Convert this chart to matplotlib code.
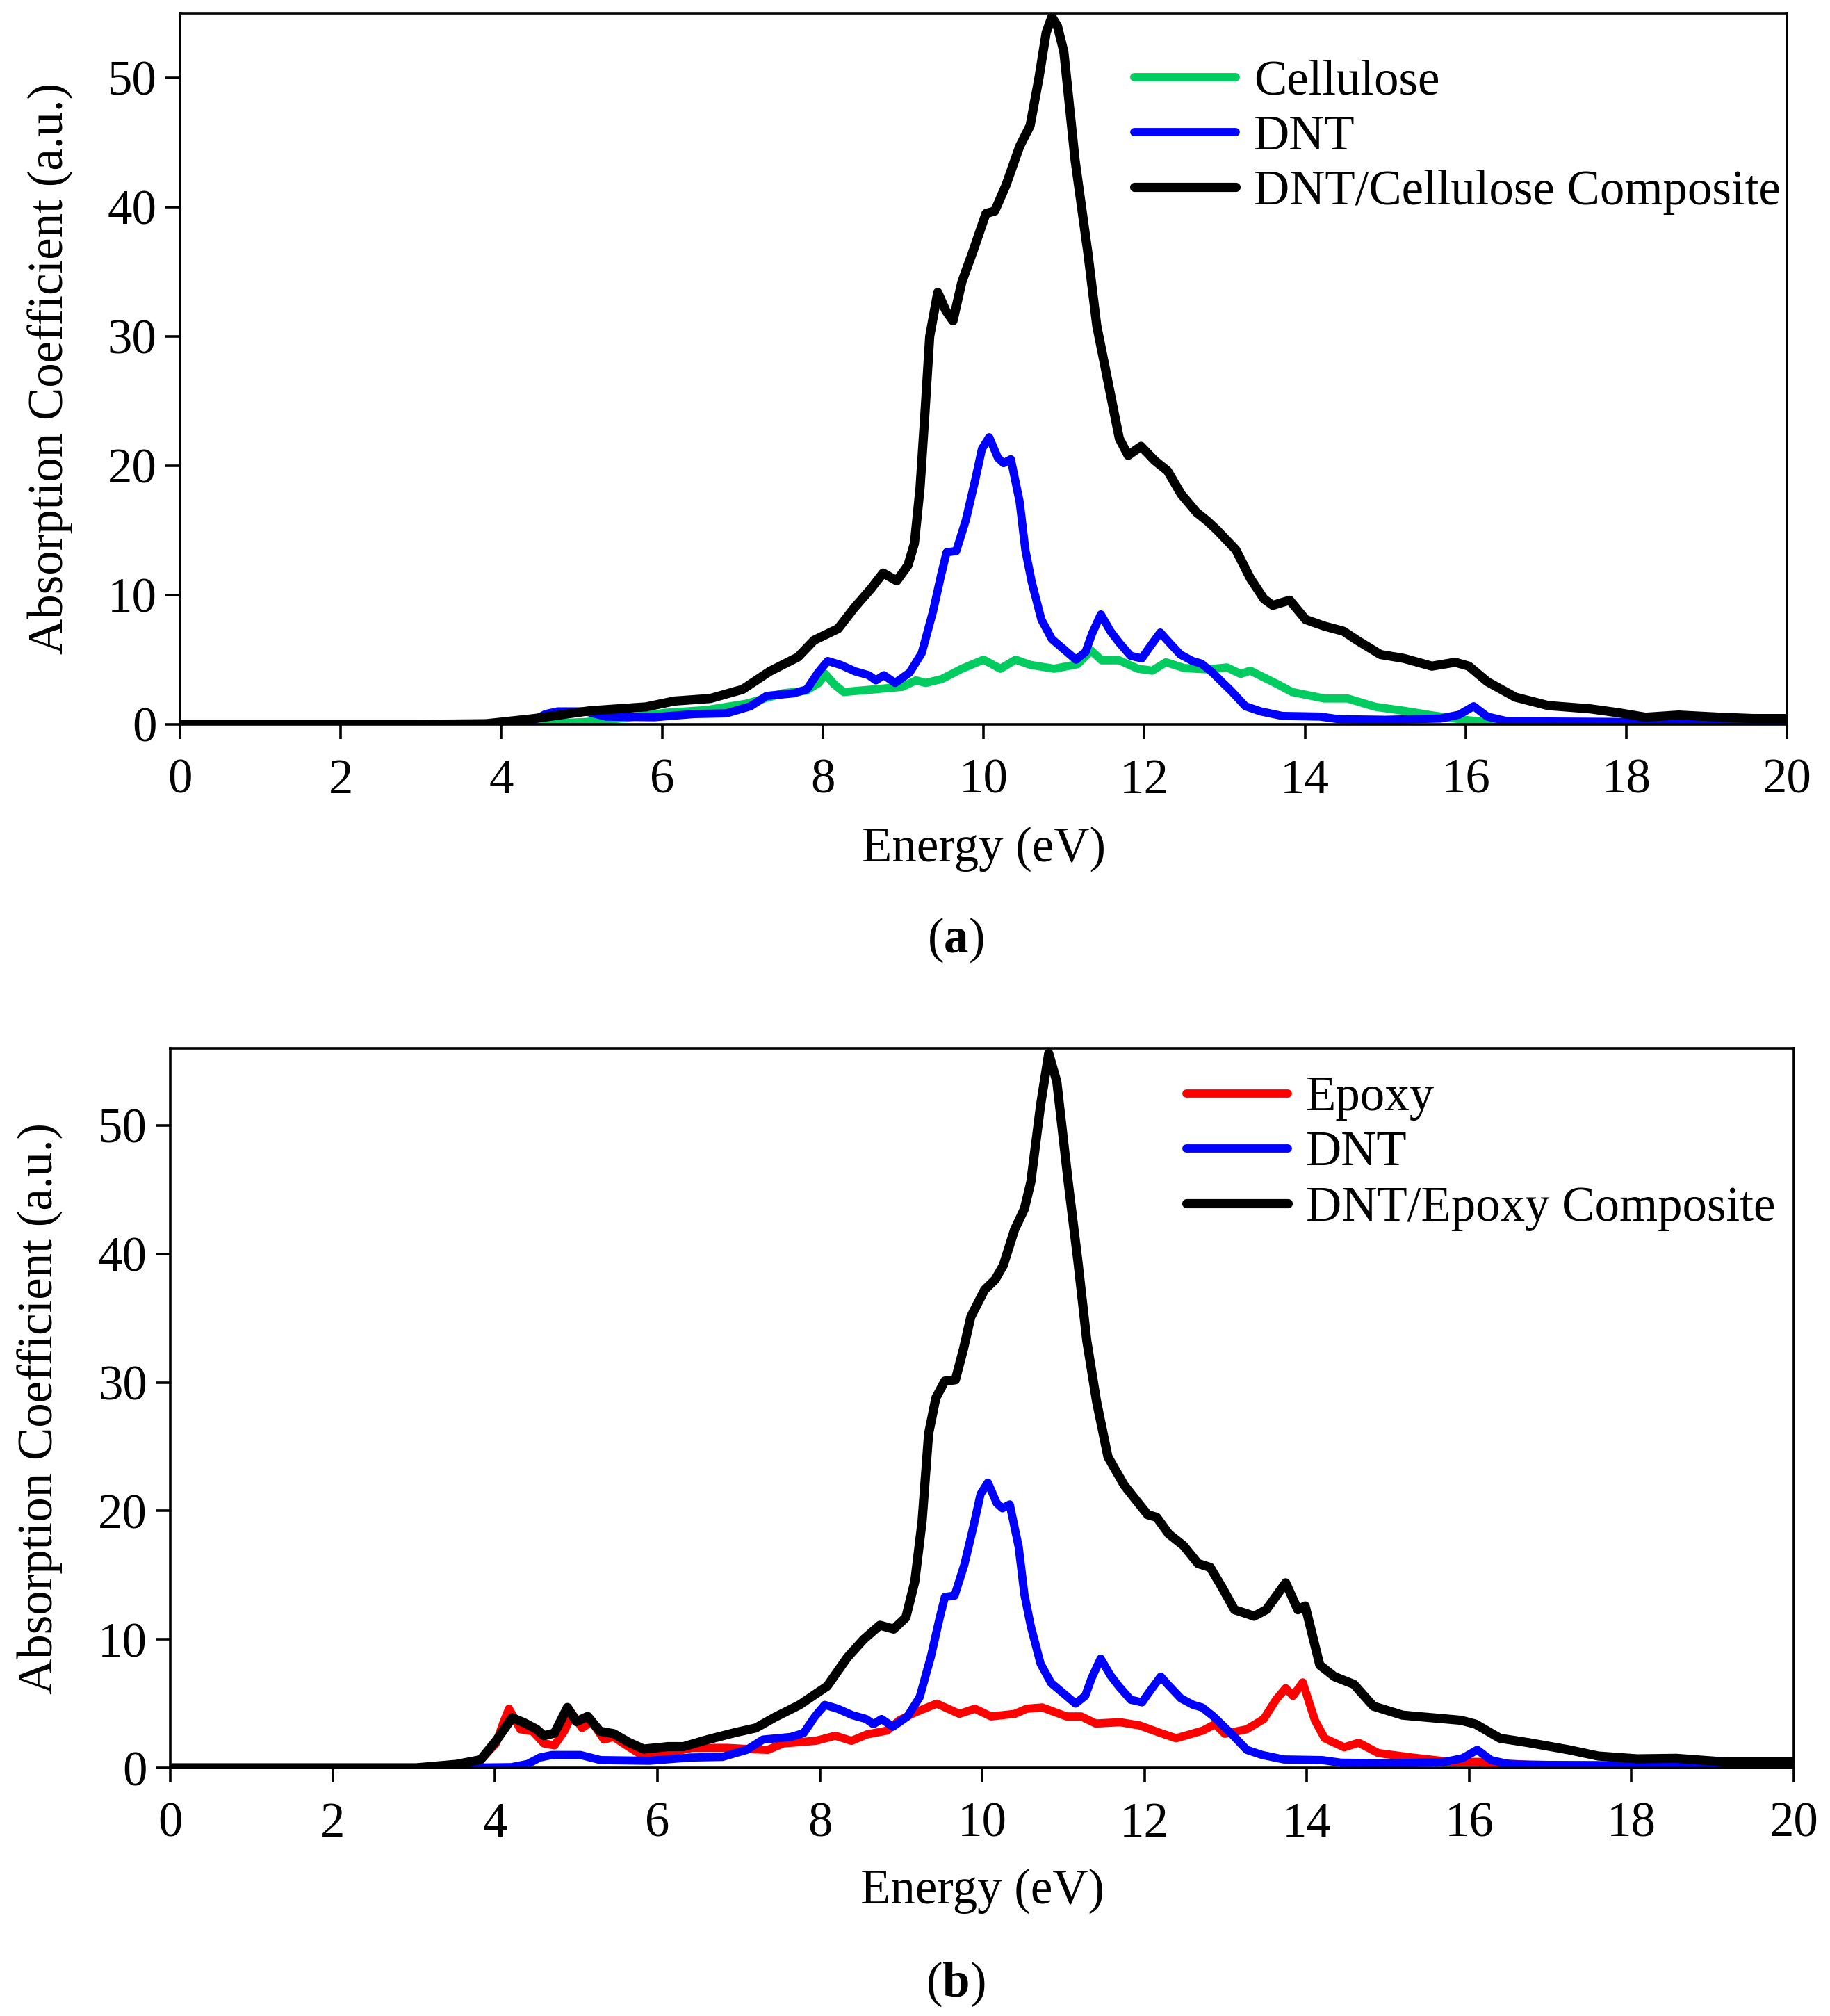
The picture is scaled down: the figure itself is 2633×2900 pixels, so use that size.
import matplotlib
matplotlib.use('Agg')
import matplotlib.pyplot as plt

plt.rcParams['font.family'] = ['Liberation Serif', 'DejaVu Serif']
plt.rcParams['mathtext.fontset'] = 'custom'
plt.rcParams['mathtext.rm'] = 'Liberation Serif'
plt.rcParams['mathtext.bf'] = 'Liberation Serif:bold'

# DNT (same spectrum in both panels)
dnt_e = [0.0, 3.5, 4.2, 4.4, 4.55, 4.7, 5.05, 5.3, 5.9, 6.4, 6.8, 7.1, 7.3, 7.64, 7.8, 7.94,
         8.06, 8.22, 8.4, 8.57, 8.66, 8.76, 8.9, 9.08, 9.23, 9.37, 9.47, 9.54, 9.66, 9.78,
         9.9, 9.98, 10.07, 10.18, 10.25, 10.34, 10.45, 10.52, 10.6, 10.72, 10.85, 11.0,
         11.15, 11.27, 11.35, 11.46, 11.58, 11.69, 11.83, 11.97, 12.07, 12.2, 12.3, 12.45,
         12.6, 12.71, 12.85, 12.98, 13.08, 13.26, 13.45, 13.72, 14.19, 14.42, 15.0, 15.69,
         15.92, 16.1, 16.27, 16.5, 17.0, 18.13, 20.0]
dnt_a = [0.0, 0.0, 0.05, 0.3, 0.8, 1.0, 1.0, 0.6, 0.55, 0.8, 0.85, 1.4, 2.2, 2.4, 2.7, 4.0,
         4.9, 4.6, 4.1, 3.8, 3.4, 3.8, 3.2, 4.0, 5.5, 8.7, 11.5, 13.3, 13.4, 15.8,
         19.0, 21.3, 22.2, 20.6, 20.2, 20.5, 17.2, 13.5, 11.0, 8.1, 6.6, 5.8,
         5.0, 5.6, 7.0, 8.5, 7.2, 6.3, 5.3, 5.1, 6.0, 7.1, 6.4, 5.4,
         4.9, 4.7, 4.0, 3.2, 2.6, 1.4, 1.0, 0.65, 0.6, 0.4, 0.35, 0.45,
         0.75, 1.4, 0.6, 0.27, 0.22, 0.18, 0.12]

# (a) Cellulose
cel_e = [0.0, 4.0, 4.56, 5.05, 5.55, 6.05, 6.55, 7.05, 7.5, 7.79, 7.95, 8.03, 8.14, 8.26,
         8.54, 8.99, 9.16, 9.28, 9.48, 9.73, 10.0, 10.21, 10.4, 10.58, 10.88, 11.17, 11.34,
         11.47, 11.69, 11.92, 12.1, 12.27, 12.5, 12.79, 13.03, 13.2, 13.32, 13.66, 13.84,
         14.24, 14.53, 14.88, 15.23, 15.58, 15.98, 16.4, 17.0, 20.0]
cel_a = [0.0, 0.0, 0.05, 0.18, 0.5, 0.9, 1.1, 1.6, 2.4, 2.6, 3.2, 3.9, 3.1, 2.5,
         2.65, 2.9, 3.4, 3.2, 3.5, 4.3, 5.0, 4.3, 5.0, 4.6, 4.3, 4.65, 5.7,
         4.95, 4.95, 4.3, 4.15, 4.8, 4.35, 4.25, 4.4, 3.9, 4.15, 3.1, 2.5,
         2.0, 2.0, 1.35, 1.05, 0.7, 0.35, 0.08, 0.02, 0.0]

# (a) DNT/Cellulose composite
dcel_e = [0.0, 3.0, 3.81, 4.41, 5.1, 5.8, 6.15, 6.6, 7.0, 7.34, 7.69, 7.89, 8.19, 8.39,
          8.6, 8.75, 8.92, 9.06, 9.14, 9.21, 9.27, 9.33, 9.43, 9.53, 9.62, 9.73, 9.87,
          10.03, 10.14, 10.28, 10.45, 10.58, 10.69, 10.78, 10.85, 10.92, 11.0, 11.14,
          11.3, 11.41, 11.52, 11.69, 11.8, 11.96, 12.13, 12.29, 12.46, 12.65, 12.79,
          12.91, 13.14, 13.32, 13.49, 13.6, 13.81, 14.01, 14.24, 14.48, 14.65, 14.94,
          15.23, 15.58, 15.87, 16.04, 16.27, 16.62, 17.03, 17.55, 17.9, 18.24, 18.65,
          19.17, 19.58, 20.0]
dcel_a = [0.0, 0.0, 0.05, 0.45, 1.05, 1.35, 1.8, 2.0, 2.7, 4.1, 5.2, 6.5, 7.4, 9.0,
          10.5, 11.7, 11.1, 12.3, 14.0, 18.3, 24.0, 30.0, 33.4, 32.0, 31.2, 34.2, 36.6,
          39.5, 39.7, 41.7, 44.7, 46.3, 50.0, 53.5, 54.7, 54.0, 52.0, 43.6,
          36.4, 30.8, 27.4, 22.1, 20.8, 21.5, 20.4, 19.6, 17.8, 16.4, 15.7,
          15.0, 13.5, 11.3, 9.7, 9.2, 9.6, 8.1, 7.6, 7.2, 6.5, 5.4,
          5.1, 4.5, 4.8, 4.5, 3.3, 2.1, 1.45, 1.2, 0.9, 0.55, 0.72,
          0.55, 0.45, 0.45]

# (b) Epoxy
epo_e = [0.0, 3.0, 3.77, 4.01, 4.1, 4.17, 4.31, 4.46, 4.6, 4.73, 4.85, 4.95, 5.07, 5.19,
         5.34, 5.46, 5.64, 5.78, 6.08, 6.42, 6.86, 7.11, 7.36, 7.55, 7.95, 8.19, 8.39,
         8.58, 8.83, 8.98, 9.17, 9.44, 9.72, 9.91, 10.11, 10.4, 10.55, 10.74, 11.04,
         11.22, 11.4, 11.7, 11.94, 12.18, 12.39, 12.72, 12.87, 12.99, 13.26, 13.47,
         13.62, 13.74, 13.83, 13.95, 14.1, 14.22, 14.46, 14.64, 14.88, 15.3, 15.78,
         16.14, 16.74, 20.0]
epo_a = [0.0, 0.0, 0.27, 1.9, 3.5, 4.6, 3.0, 2.85, 1.9, 1.75, 2.85, 4.2, 3.1, 3.6,
         2.2, 2.4, 1.65, 1.1, 1.1, 1.55, 1.55, 1.46, 1.4, 1.9, 2.1, 2.5, 2.1,
         2.6, 2.9, 3.7, 4.3, 5.0, 4.2, 4.6, 4.0, 4.2, 4.6, 4.7, 4.0,
         4.0, 3.45, 3.55, 3.3, 2.75, 2.3, 2.9, 3.4, 2.65, 3.0, 3.8,
         5.3, 6.2, 5.6, 6.65, 3.7, 2.3, 1.6, 1.95, 1.15, 0.8, 0.46,
         0.46, 0.23, 0.1]

# (b) DNT/Epoxy composite
depo_e = [0.0, 3.03, 3.52, 3.82, 4.01, 4.21, 4.36, 4.51, 4.6, 4.73, 4.89, 5.0, 5.14, 5.29,
          5.46, 5.64, 5.83, 6.13, 6.32, 6.62, 6.96, 7.21, 7.45, 7.75, 8.09, 8.34, 8.54,
          8.74, 8.91, 9.06, 9.17, 9.26, 9.34, 9.43, 9.54, 9.67, 9.77, 9.86, 10.03, 10.16,
          10.26, 10.4, 10.52, 10.6, 10.72, 10.82, 10.92, 11.06, 11.18, 11.29, 11.41,
          11.55, 11.75, 11.9, 12.04, 12.15, 12.3, 12.48, 12.66, 12.81, 12.96, 13.11,
          13.26, 13.35, 13.5, 13.74, 13.89, 13.98, 14.16, 14.34, 14.58, 14.82, 15.18,
          15.54, 15.9, 16.08, 16.38, 16.74, 17.23, 17.59, 18.07, 18.55, 19.15, 20.0]
depo_a = [0.0, 0.0, 0.27, 0.63, 2.1, 3.9, 3.5, 3.0, 2.5, 2.7, 4.7, 3.6, 4.0, 2.85,
          2.66, 2.0, 1.46, 1.65, 1.65, 2.2, 2.75, 3.1, 3.95, 4.9, 6.35, 8.6, 10.0,
          11.1, 10.8, 11.7, 14.5, 19.2, 26.0, 28.8, 30.1, 30.2, 32.6, 35.1, 37.2, 38.0,
          39.1, 41.9, 43.5, 45.6, 51.6, 55.6, 53.4, 45.6, 39.4, 33.2, 28.5,
          24.2, 22.0, 20.8, 19.7, 19.5, 18.2, 17.3, 15.9, 15.6, 14.0, 12.3,
          12.0, 11.8, 12.3, 14.4, 12.3, 12.6, 8.0, 7.1, 6.5, 4.8, 4.1,
          3.9, 3.7, 3.4, 2.3, 1.95, 1.4, 0.92, 0.7, 0.74, 0.46, 0.46]

x_ticks = list(range(0, 21, 2))
y_ticks = [0, 10, 20, 30, 40, 50]

FS = 51
LW_COL = 8.5
LW_BLACK = 9.5


def style_axis(ax, ymax, xlab_y):
    ax.set_xlim(0, 20)
    ax.set_ylim(0, ymax)
    ax.set_xticks(x_ticks)
    ax.set_yticks(y_ticks)
    ax.tick_params(axis='both', which='both', direction='out', length=15, width=2.6,
                   labelsize=FS, top=False, right=False)
    ax.tick_params(axis='x', pad=20)
    ax.tick_params(axis='y', pad=9)
    for sp in ax.spines.values():
        sp.set_linewidth(2.6)
    ax.set_xlabel('Energy (eV)', fontsize=FS)
    ax.set_ylabel('Absorption Coefficient (a.u.)', fontsize=FS)
    ax.xaxis.set_label_coords(0.5, xlab_y)
    ax.yaxis.set_label_coords(-0.066, 0.5)


def add_legend(ax, anchor):
    ax.legend(loc='upper left', bbox_to_anchor=anchor, frameon=False, fontsize=FS,
              handlelength=2.05, handletextpad=0.37, labelspacing=0.2,
              borderpad=0, borderaxespad=0)


fig = plt.figure(figsize=(26.33, 29.0), dpi=100)
ax1 = fig.add_axes([0.0984, 0.6407, 0.8781, 0.3528])
ax2 = fig.add_axes([0.0932, 0.1231, 0.8870, 0.3569])

ax1.plot(cel_e, cel_a, color='#00cc60', lw=LW_COL, label='Cellulose', solid_capstyle='round')
ax1.plot(dnt_e, dnt_a, color='#0000ff', lw=LW_COL, label='DNT', solid_capstyle='round')
ax1.plot(dcel_e, dcel_a, color='black', lw=LW_BLACK, label='DNT/Cellulose Composite',
         solid_capstyle='round')
style_axis(ax1, 55, -0.143)
add_legend(ax1, (0.594, 0.935))

ax2.plot(epo_e, epo_a, color='#ff0000', lw=LW_COL, label='Epoxy', solid_capstyle='round')
ax2.plot(dnt_e, dnt_a, color='#0000ff', lw=LW_COL, label='DNT', solid_capstyle='round')
ax2.plot(depo_e, depo_a, color='black', lw=LW_BLACK, label='DNT/Epoxy Composite',
         solid_capstyle='round')
style_axis(ax2, 56, -0.14)
add_legend(ax2, (0.626, 0.962))

fig.text(0.522, 0.5338, r'($\mathbf{a}$)', fontsize=FS, ha='center', va='center')
fig.text(0.522, 0.0159, r'($\mathbf{b}$)', fontsize=FS, ha='center', va='center')

fig.savefig('out.png', dpi=100)
